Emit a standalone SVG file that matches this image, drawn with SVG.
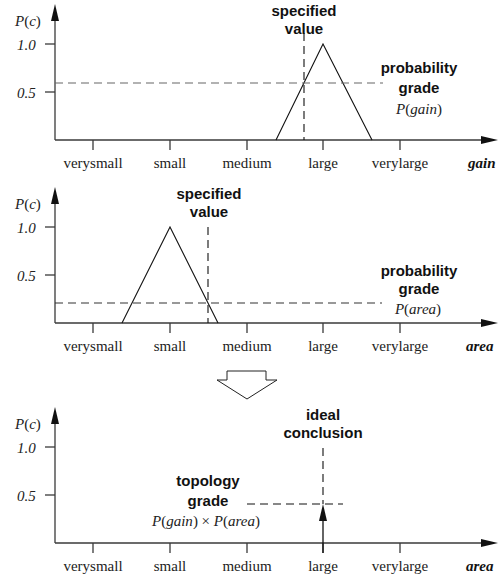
<svg xmlns="http://www.w3.org/2000/svg" width="501" height="578" viewBox="0 0 501 578">
<style>
.ax{stroke:#3a3a3a;stroke-width:1.3;fill:none}
.tri{stroke:#111;stroke-width:1.1;fill:none}
.dash{stroke-width:1.1;fill:none;stroke-dasharray:8,5}
.hd{fill:#111}
.tl{font-family:"Liberation Serif",serif;font-size:15px;fill:#222;text-anchor:middle}
.yl{font-family:"Liberation Serif",serif;font-size:15px;font-style:italic;fill:#222}
.bl{font-family:"Liberation Sans",Arial,sans-serif;font-size:15px;font-weight:bold;fill:#111;text-anchor:middle}
.mt{font-family:"Liberation Serif",serif;font-size:15px;fill:#222;text-anchor:middle}
.it{font-style:italic}
.ax-lab{font-family:"Liberation Serif",serif;font-size:15px;font-style:italic;font-weight:bold;fill:#111}
</style>
<defs>
<g id="axes">
<line class="ax" x1="55" y1="20" x2="55" y2="140"/>
<polygon class="hd" points="55,4 51,21 59,21"/>
<line class="ax" x1="55" y1="140" x2="482" y2="140"/>
<polygon class="hd" points="498,140 481,136 481,144"/>
<line class="ax" x1="45" y1="44" x2="55" y2="44"/>
<line class="ax" x1="45" y1="92" x2="55" y2="92"/>
<line class="ax" x1="93" y1="140" x2="93" y2="150"/>
<line class="ax" x1="170" y1="140" x2="170" y2="150"/>
<line class="ax" x1="247" y1="140" x2="247" y2="150"/>
<line class="ax" x1="323" y1="140" x2="323" y2="150"/>
<line class="ax" x1="400" y1="140" x2="400" y2="150"/>
<text class="yl" x="15" y="26">P<tspan font-style="normal">(</tspan>c<tspan font-style="normal">)</tspan></text>
<text class="yl" x="17" y="49.5">1.0</text>
<text class="yl" x="17" y="97.5">0.5</text>
<text class="tl" x="93" y="168">verysmall</text>
<text class="tl" x="170" y="168">small</text>
<text class="tl" x="247" y="168">medium</text>
<text class="tl" x="323" y="168">large</text>
<text class="tl" x="400" y="168">verylarge</text>
</g>
</defs>

<g id="panel-gain">
<use href="#axes"/>
<text class="ax-lab" x="468" y="168">gain</text>
<polyline class="tri" points="276,140 323,44 372,140"/>
<line class="dash" stroke="#666" x1="55" y1="83" x2="383" y2="83"/>
<line class="dash" stroke="#111" x1="304" y1="33" x2="304" y2="140" stroke-dasharray="7,4"/>
<text class="bl" x="304" y="16">specified</text>
<text class="bl" x="304" y="34">value</text>
<text class="bl" x="419" y="73">probability</text>
<text class="bl" x="419" y="93">grade</text>
<text class="mt" x="419" y="114"><tspan class="it">P</tspan>(<tspan class="it">gain</tspan>)</text>
</g>

<g id="panel-area" transform="translate(0,183)">
<use href="#axes"/>
<text class="ax-lab" x="466" y="168">area</text>
<polyline class="tri" points="122,140 170,44 218,140"/>
<line class="dash" stroke="#333" x1="55" y1="120" x2="382" y2="120"/>
<line class="dash" stroke="#111" x1="208" y1="44" x2="208" y2="140" stroke-dasharray="7,4"/>
<text class="bl" x="209" y="16">specified</text>
<text class="bl" x="209" y="34">value</text>
<text class="bl" x="419" y="93">probability</text>
<text class="bl" x="419" y="111">grade</text>
<text class="mt" x="418" y="131"><tspan class="it">P</tspan>(<tspan class="it">area</tspan>)</text>
</g>

<g id="down-arrow">
<polygon points="227,371 266,371 266,380 277,380 247,399 217,380 227,380" fill="#fff" stroke="#222" stroke-width="1"/>
</g>

<g id="panel-conclusion" transform="translate(0,403)">
<use href="#axes"/>
<text class="ax-lab" x="466" y="168">area</text>
<line class="dash" stroke="#111" x1="323" y1="45" x2="323" y2="101" stroke-dasharray="6,5"/>
<line class="dash" stroke="#111" x1="247" y1="101" x2="343" y2="101" stroke-dasharray="6,4"/>
<line stroke="#111" stroke-width="1.3" x1="323" y1="150" x2="323" y2="117"/>
<polygon class="hd" points="323,101 319,118 327,118"/>
<text class="bl" x="323" y="17">ideal</text>
<text class="bl" x="323" y="35">conclusion</text>
<text class="bl" x="208" y="83">topology</text>
<text class="bl" x="208" y="103">grade</text>
<text class="mt" x="206" y="123"><tspan class="it">P</tspan>(<tspan class="it">gain</tspan>) × <tspan class="it">P</tspan>(<tspan class="it">area</tspan>)</text>
</g>
</svg>
